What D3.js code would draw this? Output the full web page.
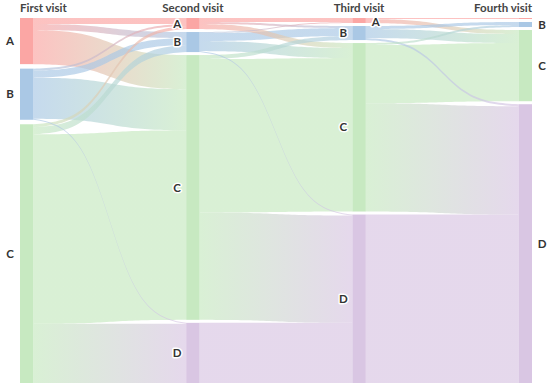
<!DOCTYPE html>
<html>
<head>
<meta charset="utf-8">
<script src="https://cdn.jsdelivr.net/npm/d3@7"></script>
<style>
  body { margin: 0; background: #fff; }
  text { font-family: Lato, "Noto Sans", sans-serif; }
</style>
</head>
<body>
<div id="chart"></div>
<script>
// stages (columns) and categories (nodes)
const stages = ["First visit", "Second visit", "Third visit", "Fourth visit"];
const categories = ["A", "B", "C", "D"];
const colors = ["#fba6a4", "#aac8e5", "#c7e9c1", "#d9c6e3"];

// rows = source category, columns = target category
const firstToSecond = [[6, 6, 34, 0], [2, 7, 41, 1], [3, 7, 189, 59], [0, 0, 0, 0]];
const secondToThird = [[4, 2, 5, 0], [1, 8, 10, 1], [0, 4, 153, 107], [0, 0, 0, 60]];
const thirdToFourth = [[1, 0, 4, 0], [0, 3, 9, 2], [0, 2, 58, 108], [0, 0, 0, 168]];
const transitions = [firstToSecond, secondToThird, thirdToFourth];

const width = 550, height = 392;
const yTop = 18, yBottom = 383, barW = 13.5, minGap = 3;

const svg = d3.select('#chart').append('svg')
  .attr('width', width)
  .attr('height', height);
const defs = svg.append('defs');

const x = d3.scaleLinear().domain([0, stages.length - 1]).range([20, 518.5]);

// node values = max(in, out)
const nodes = [];
stages.forEach((st, i) => {
  categories.forEach((c, k) => {
    const out = i < transitions.length ? d3.sum(transitions[i][k]) : 0;
    const inn = i > 0 ? d3.sum(transitions[i - 1], row => row[k]) : 0;
    const v = Math.max(out, inn);
    if (v > 0) nodes.push({ stage: i, cat: k, value: v, out: [], inn: [] });
  });
});

const columns = d3.groups(nodes, d => d.stage).map(g => g[1]);
const ky = d3.min(columns, col => (yBottom - yTop - (col.length - 1) * minGap) / d3.sum(col, d => d.value));
const h = d3.scaleLinear().domain([0, 1]).range([0, ky]);

columns.forEach(col => {
  const gap = (yBottom - yTop - d3.sum(col, d => h(d.value))) / (col.length - 1);
  let y = yTop;
  col.forEach(d => {
    d.x0 = x(d.stage);
    d.x1 = d.x0 + barW;
    d.y0 = y;
    d.y1 = y + h(d.value);
    y = d.y1 + gap;
  });
});

const findNode = (i, k) => nodes.find(d => d.stage === i && d.cat === k);

const links = [];
transitions.forEach((m, i) => {
  m.forEach((row, s) => row.forEach((v, t) => {
    if (v <= 0) return;
    const l = { source: findNode(i, s), target: findNode(i + 1, t), value: v };
    l.source.out.push(l);
    l.target.inn.push(l);
    links.push(l);
  }));
});

nodes.forEach(d => {
  d.out.sort((a, b) => a.target.y0 - b.target.y0);
  d.inn.sort((a, b) => a.source.y0 - b.source.y0);
  let y = d.y0;
  d.out.forEach(l => { l.sy = y; y += h(l.value); });
  y = d.y0;
  d.inn.forEach(l => { l.ty = y; y += h(l.value); });
});

// sigmoid shaped band
const k = 9;
const sig = t => 1 / (1 + Math.exp(-k * (t - 0.5)));
const ease = t => (sig(t) - sig(0)) / (sig(1) - sig(0));
const area = d3.area()
  .x(p => p[0])
  .y0(p => p[1])
  .y1(p => p[2]);

const bandPoints = l => {
  const x0 = l.source.x1, x1 = l.target.x0, w = Math.max(h(l.value), 0.8);
  return d3.range(0, 1.0001, 1 / 48).map(t => {
    const y = l.sy + (l.ty - l.sy) * ease(t);
    return [x0 + (x1 - x0) * t, y, y + w];
  });
};

// Gradients
links.forEach((l, i) => {
  const g = defs.append('linearGradient')
    .attr('id', 'grad' + i)
    .attr('gradientUnits', 'userSpaceOnUse')
    .attr('x1', l.source.x1).attr('x2', l.target.x0)
    .attr('y1', 0).attr('y2', 0);
  g.append('stop').attr('offset', '0%').attr('stop-color', colors[l.source.cat]);
  g.append('stop').attr('offset', '100%').attr('stop-color', colors[l.target.cat]);
  l.gid = 'grad' + i;
});

// Links, big ones first so thin ones stay visible
svg.append('g')
  .selectAll('path')
  .data(links.slice().sort((a, b) => b.value - a.value))
  .enter()
  .append('path')
  .attr('d', l => area(bandPoints(l)))
  .attr('fill', l => `url(#${l.gid})`)
  .attr('fill-opacity', 0.68);

// Node bars
svg.append('g')
  .selectAll('rect')
  .data(nodes)
  .enter()
  .append('rect')
  .attr('x', d => d.x0)
  .attr('y', d => d.y0)
  .attr('width', barW)
  .attr('height', d => d.y1 - d.y0)
  .attr('fill', d => colors[d.cat]);

// Stage titles
svg.append('g')
  .selectAll('text')
  .data(stages)
  .enter()
  .append('text')
  .attr('x', (d, i) => i === 0 ? x(i) : i === stages.length - 1 ? x(i) + barW : x(i) + barW / 2)
  .attr('y', 12)
  .attr('text-anchor', (d, i) => i === 0 ? 'start' : i === stages.length - 1 ? 'end' : 'middle')
  .style('font-size', '11.5px')
  .style('font-weight', 'bold')
  .attr('fill', '#444')
  .text(d => d);

// Node labels
const last = stages.length - 1;
svg.append('g')
  .selectAll('text')
  .data(nodes.filter(d => d.value >= 2))
  .enter()
  .append('text')
  .attr('x', d => {
    if (d.stage === 0) return d.x0 - 10;
    if (d.stage === last || d.y1 - d.y0 < 8) return d.x1 + 10;
    return d.x0 - 9;
  })
  .attr('y', d => (d.y0 + d.y1) / 2 + (d.y1 - d.y0 < 8 && d.stage !== last ? 1.5 : 0))
  .attr('dy', '0.36em')
  .attr('text-anchor', 'middle')
  .style('font-size', '11.5px')
  .style('font-weight', 'bold')
  .attr('fill', '#333')
  .attr('stroke', '#fff')
  .attr('stroke-width', 3)
  .attr('stroke-linejoin', 'round')
  .attr('paint-order', 'stroke')
  .text(d => categories[d.cat]);
</script>
</body>
</html>
